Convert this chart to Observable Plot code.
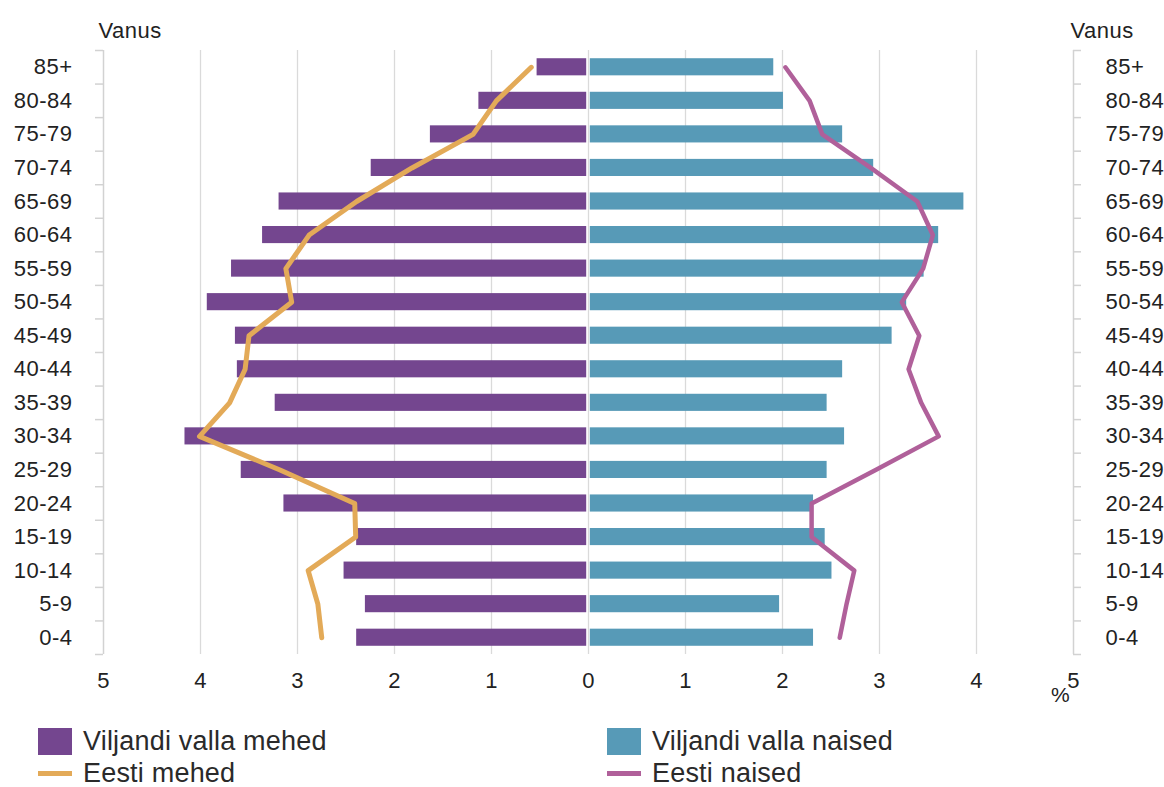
<!DOCTYPE html>
<html>
<head>
<meta charset="utf-8">
<script src="https://cdn.jsdelivr.net/npm/d3@7"></script>
<script src="https://cdn.jsdelivr.net/npm/@observablehq/plot@0.6"></script>
<style>
  html, body { margin: 0; padding: 0; background: #fff; }
  #wrap { position: relative; width: 1164px; height: 787px; overflow: hidden; font-family: "Liberation Sans", Arial, sans-serif; color: #222; }
  #legend { position: absolute; left: 0; top: 715px; width: 1164px; height: 72px; }
  .item { position: absolute; display: flex; align-items: center; font-size: 27px; line-height: 1; letter-spacing: 0.2px; color: #2a2a2a; }
  .sw { display: inline-block; margin-right: 11px; }
  #chart svg text { letter-spacing: 0.5px; }
</style>
</head>
<body>
<div id="wrap">
  <div id="chart"></div>
  <div id="legend"></div>
</div>
<script>
// Age groups, top to bottom
const ages = ["85+","80-84","75-79","70-74","65-69","60-64","55-59","50-54","45-49","40-44","35-39","30-34","25-29","20-24","15-19","10-14","5-9","0-4"];
// Viljandi valla mehed (%)
const vallaMehed = [0.53,1.13,1.63,2.24,3.19,3.36,3.68,3.93,3.64,3.62,3.23,4.16,3.58,3.14,2.39,2.52,2.30,2.39];
// Viljandi valla naised (%)
const vallaNaised = [1.91,2.01,2.62,2.94,3.87,3.61,3.46,3.28,3.13,2.62,2.46,2.64,2.46,2.32,2.44,2.51,1.97,2.32];
// Eesti mehed (%)
const eestiMehed = [0.59,0.95,1.19,1.82,2.39,2.88,3.12,3.06,3.50,3.54,3.70,4.01,3.18,2.41,2.40,2.89,2.79,2.75];
// Eesti naised (%)
const eestiNaised = [2.03,2.28,2.41,2.91,3.39,3.55,3.45,3.23,3.41,3.30,3.43,3.61,2.96,2.30,2.30,2.74,2.66,2.59];
// x tick values
const xTicks = [-5,-4,-3,-2,-1,0,1,2,3,4,5];
const gridTicks = [-4,-3,-2,-1,0,1,2,3,4];

const colors = {
  vallaMehed: "#74468f",
  vallaNaised: "#579ab7",
  eestiMehed: "#e3aa58",
  eestiNaised: "#b0609a"
};

const rows = ages.map((a, i) => ({
  age: a,
  men: -vallaMehed[i],
  women: vallaNaised[i],
  eMen: -eestiMehed[i],
  eWomen: eestiNaised[i]
}));

const W = 1164, H = 715, mT = 50, mB = 61;
const step = (H - mT - mB) / ages.length;

const chart = Plot.plot({
  width: W,
  height: H,
  marginLeft: 103,
  marginRight: 91,
  marginTop: mT,
  marginBottom: mB,
  style: { fontFamily: "Liberation Sans, Arial, sans-serif", fontSize: "22px", color: "#222", background: "#fff" },
  x: { domain: [-5, 5] },
  y: { domain: ages, paddingInner: 0.49, paddingOuter: 0.245, round: false },
  marks: [
    Plot.ruleX(gridTicks, { stroke: "#dadada", strokeWidth: 1.3 }),
    Plot.ruleX([-5, 5], { stroke: "#d2d2d2", strokeWidth: 1.5 }),
    // category boundary ticks on the left and right axes
    Plot.ruleY(ages, { y: d => d, x1: -5, x2: -5, insetLeft: -8, dy: step / 2, stroke: "#d2d2d2", strokeWidth: 1.5 }),
    Plot.ruleY(ages.slice(0, 1), { y: d => d, x1: -5, x2: -5, insetLeft: -8, dy: -step / 2, stroke: "#d2d2d2", strokeWidth: 1.5 }),
    Plot.ruleY(ages, { y: d => d, x1: 5, x2: 5, insetRight: -8, dy: step / 2, stroke: "#d2d2d2", strokeWidth: 1.5 }),
    Plot.ruleY(ages.slice(0, 1), { y: d => d, x1: 5, x2: 5, insetRight: -8, dy: -step / 2, stroke: "#d2d2d2", strokeWidth: 1.5 }),
    Plot.barX(rows, { y: "age", x: "men", fill: colors.vallaMehed, insetRight: 1.8 }),
    Plot.barX(rows, { y: "age", x: "women", fill: colors.vallaNaised, insetLeft: 1.8 }),
    Plot.lineX(rows, { y: "age", x: "eMen", stroke: colors.eestiMehed, strokeWidth: 5, strokeLinejoin: "round", strokeLinecap: "round" }),
    Plot.lineX(rows, { y: "age", x: "eWomen", stroke: colors.eestiNaised, strokeWidth: 4.5, strokeLinejoin: "round", strokeLinecap: "round" }),
    Plot.axisY({ anchor: "left", tickSize: 0, tickPadding: 31, label: null }),
    Plot.axisY({ anchor: "right", tickSize: 0, tickPadding: 32, label: null }),
    Plot.axisX({ ticks: xTicks, tickFormat: d => Math.abs(d), tickSize: 0, tickPadding: 18, label: null }),
    Plot.text(["Vanus"], { frameAnchor: "top-left", text: d => d, textAnchor: "start", dx: -5, dy: -28, fontSize: 22 }),
    Plot.text(["Vanus"], { frameAnchor: "top-right", text: d => d, textAnchor: "start", dx: -3, dy: -28, fontSize: 22 }),
    Plot.text(["%"], { x: [5], frameAnchor: "bottom", text: d => d, dx: -13, dy: 47, fontSize: 21 })
  ]
});
document.getElementById("chart").appendChild(chart);

// Legend (HTML, below the SVG)
const legendItems = [
  { label: "Viljandi valla mehed", color: colors.vallaMehed, kind: "box", left: 38, top: 26 },
  { label: "Viljandi valla naised", color: colors.vallaNaised, kind: "box", left: 607, top: 26 },
  { label: "Eesti mehed", color: colors.eestiMehed, kind: "line", left: 38, top: 58 },
  { label: "Eesti naised", color: colors.eestiNaised, kind: "line", left: 607, top: 58 }
];
const legend = document.getElementById("legend");
for (const it of legendItems) {
  const div = document.createElement("div");
  div.className = "item";
  div.style.left = it.left + "px";
  div.style.top = (it.top - 14) + "px";
  div.style.height = "28px";
  const sw = document.createElement("span");
  sw.className = "sw";
  sw.style.width = "34px";
  sw.style.height = it.kind === "box" ? "27px" : "5px";
  sw.style.background = it.color;
  div.appendChild(sw);
  const t = document.createElement("span");
  t.textContent = it.label;
  div.appendChild(t);
  legend.appendChild(div);
}
</script>
</body>
</html>
